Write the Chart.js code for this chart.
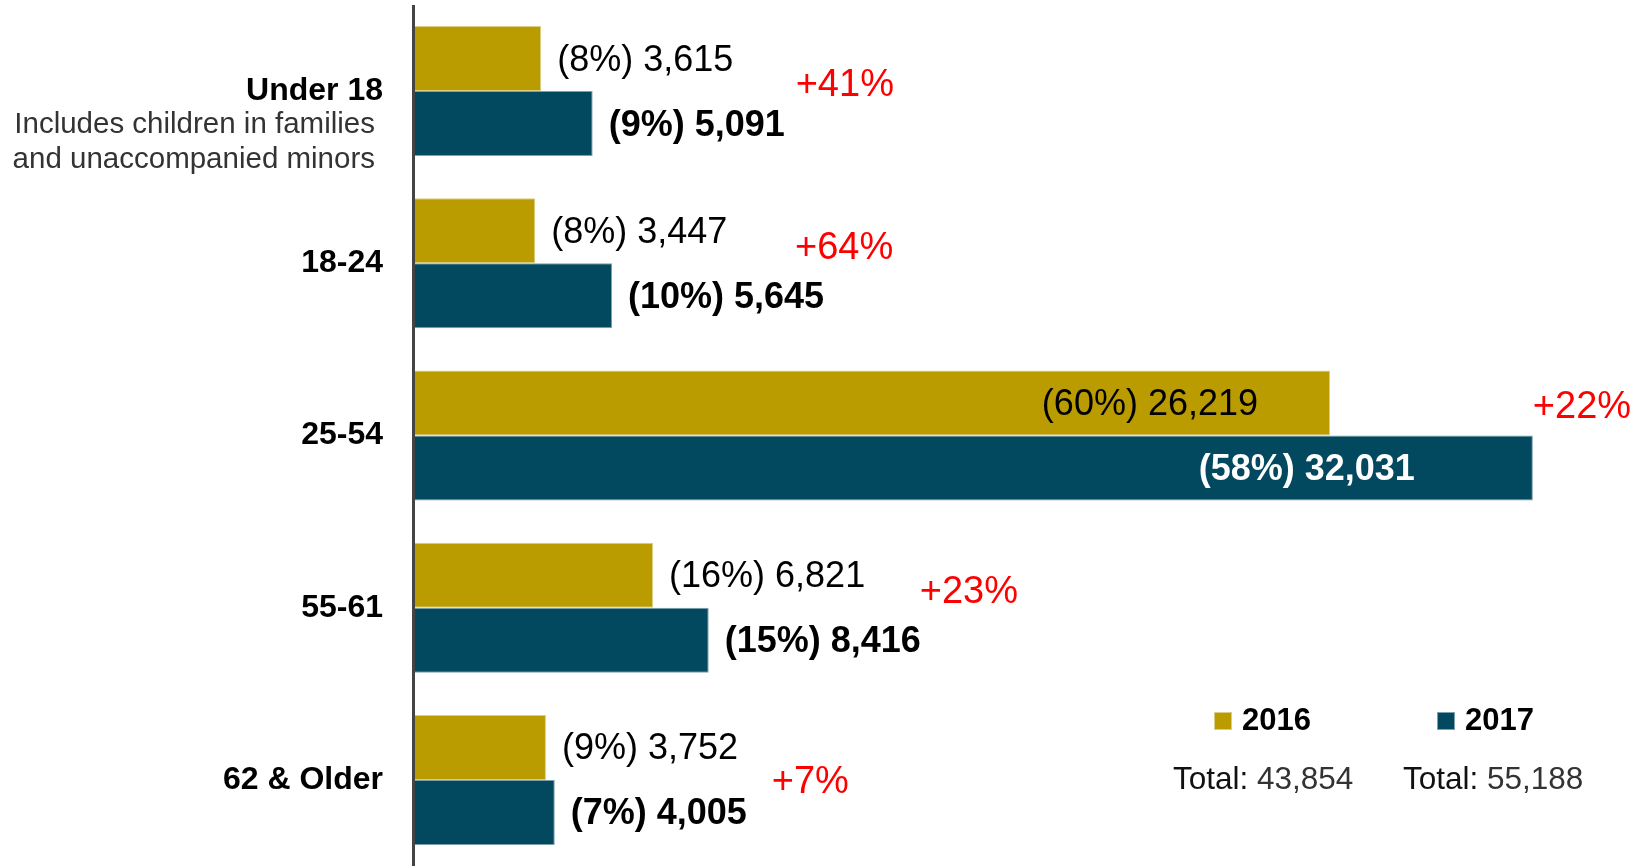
<!DOCTYPE html>
<html>
<head>
<meta charset="utf-8">
<script src="https://cdn.jsdelivr.net/npm/chart.js@4.4.0/dist/chart.umd.min.js"></script>
<style>
html, body { margin: 0; padding: 0; background: #fff; }
</style>
</head>
<body>
<canvas id="ageChart" width="1641" height="866"></canvas>
<script>
const categories = ['Under 18', '18-24', '25-54', '55-61', '62 & Older'];
const subLabels = [['Includes children in families', 'and unaccompanied minors'], [], [], [], []];
const years = ['2016', '2017'];
const values2016 = [3615, 3447, 26219, 6821, 3752];
const values2017 = [5091, 5645, 32031, 8416, 4005];

const gold = '#BA9C00';
const teal = '#02495F';
const FONT = '"Liberation Sans", Arial, sans-serif';

// hand placed change notes: px from end of 2017 bar, px from category centre
const noteDx = [203, 183, 0, 211, 217];
const noteDy = [-6, -15, -28, -15, 3];
// labels that sit inside the long bars, inset from bar end
const insideInset = [72, 118];
// legend block
const legendX = [1214, 1437];
const totalX = [1173, 1403];

const sum = arr => arr.reduce((a, b) => a + b, 0);
const totals = [sum(values2016), sum(values2017)];
const fmt = n => n.toLocaleString('en-US');

const labelPlugin = {
    id: 'labelPlugin',
    afterDatasetsDraw(chart) {
        const ctx = chart.ctx;
        const area = chart.chartArea;
        const yScale = chart.scales.y;
        ctx.save();

        // axis line
        ctx.strokeStyle = '#444';
        ctx.lineWidth = 3;
        ctx.beginPath();
        ctx.moveTo(area.left - 1.5, 5);
        ctx.lineTo(area.left - 1.5, chart.height);
        ctx.stroke();

        ctx.textBaseline = 'middle';

        // value labels
        chart.data.datasets.forEach((ds, di) => {
            const meta = chart.getDatasetMeta(di);
            meta.data.forEach((bar, i) => {
                const v = ds.data[i];
                const pct = Math.round(v / totals[di] * 100);
                const txt = '(' + pct + '%) ' + fmt(v);
                ctx.font = (di ? 'bold ' : '') + '36px ' + FONT;
                if (bar.x - bar.base > 600) {
                    ctx.textAlign = 'right';
                    ctx.fillStyle = di ? '#fff' : '#000';
                    ctx.fillText(txt, bar.x - insideInset[di], bar.y + 2);
                } else {
                    ctx.textAlign = 'left';
                    ctx.fillStyle = '#000';
                    ctx.fillText(txt, bar.x + 16, bar.y + 2);
                }
            });
        });

        // change notes
        const m17 = chart.getDatasetMeta(1);
        categories.forEach((c, i) => {
            const change = Math.round((values2017[i] / values2016[i] - 1) * 100);
            ctx.font = '38px ' + FONT;
            ctx.fillStyle = '#FF0000';
            ctx.textAlign = 'left';
            ctx.fillText('+' + change + '%', m17.data[i].x + noteDx[i], yScale.getPixelForValue(i) + noteDy[i]);
        });

        // category labels
        categories.forEach((c, i) => {
            const y = yScale.getPixelForValue(i);
            ctx.textAlign = 'right';
            ctx.font = 'bold 32px ' + FONT;
            ctx.fillStyle = '#000';
            ctx.fillText(c, area.left - 32, y);
            ctx.font = '29.5px ' + FONT;
            ctx.fillStyle = '#333';
            subLabels[i].forEach((s, k) => ctx.fillText(s, area.left - 40, y + 34 + k * 35));
        });

        // legend + totals
        const colors = [gold, teal];
        const borders = ['#dccf85', '#7e9fad'];
        years.forEach((yr, k) => {
            ctx.fillStyle = colors[k];
            ctx.fillRect(legendX[k], 712, 18, 18);
            ctx.strokeStyle = borders[k];
            ctx.lineWidth = 1;
            ctx.strokeRect(legendX[k] + 0.5, 712.5, 17, 17);
            ctx.textAlign = 'left';
            ctx.fillStyle = '#000';
            ctx.font = 'bold 31px ' + FONT;
            ctx.fillText(yr, legendX[k] + 28, 721);

            ctx.font = '31.5px ' + FONT;
            ctx.fillStyle = '#111';
            const head = 'Total: ';
            ctx.fillText(head, totalX[k], 780);
            const w = ctx.measureText(head).width;
            ctx.fillStyle = '#333';
            ctx.fillText(fmt(totals[k]), totalX[k] + w, 780);
        });

        ctx.restore();
    }
};

new Chart(document.getElementById('ageChart'), {
    type: 'bar',
    data: {
        labels: categories,
        datasets: [{
            label: years[0],
            data: values2016,
            backgroundColor: gold,
            borderColor: '#dccf85',
            borderWidth: 1,
            borderSkipped: 'start'
        }, {
            label: years[1],
            data: values2017,
            backgroundColor: teal,
            borderColor: '#7e9fad',
            borderWidth: 1,
            borderSkipped: 'start'
        }]
    },
    options: {
        indexAxis: 'y',
        responsive: false,
        devicePixelRatio: 1,
        animation: false,
        layout: { padding: { left: 415, right: 0, top: 5, bottom: -2 } },
        datasets: { bar: { categoryPercentage: 0.755, barPercentage: 1 } },
        scales: {
            x: { display: false, min: 0, max: 35130 },
            y: { display: false }
        },
        plugins: {
            legend: { display: false },
            tooltip: { enabled: false }
        }
    },
    plugins: [labelPlugin]
});
</script>
</body>
</html>
